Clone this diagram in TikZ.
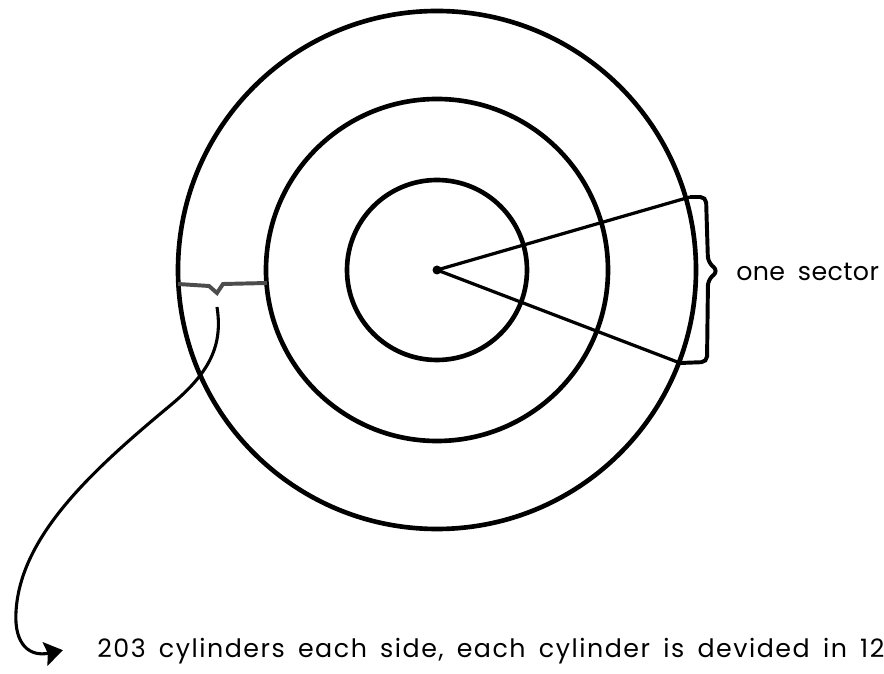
\documentclass[tikz,border=0pt]{standalone}
\usepackage{fontspec}
\setmainfont{Poppins}[LetterSpace=6, WordSpace=1.6]
\newfontfamily\sectorfont{Poppins}[LetterSpace=1.5, WordSpace=1.8]
\usetikzlibrary{arrows.meta, positioning, calc}

\begin{document}
\begin{tikzpicture}[x=0.025cm, y=-0.025cm,
        ring/.style={draw, line width=3.3pt},
        spoke/.style={draw, line width=2.3pt},
        bracket/.style={draw, line width=2.8pt, rounded corners=4pt},
        gap/.style={draw=black!70, line width=2.8pt},
        pointer/.style={draw, line width=2.2pt, -{Stealth[length=13pt, width=17pt, inset=2pt]}},
        label/.style={font=\fontsize{18}{21}\selectfont, inner sep=0pt}
    ]
    \useasboundingbox (0,0) rectangle (884,674);
    \clip (0,0) rectangle (884,674);

    % the disk and its cylinders
    \coordinate (c) at (437,270);
    \draw[ring] (c) circle[radius=259];
    \draw[ring] (c) circle[radius=171];
    \draw[ring] (c) circle[radius=90];
    \fill (c) circle[radius=4.5];

    % one sector
    \coordinate (s1) at (690,197);
    \coordinate (s2) at (680,363);
    \coordinate (tip) at (718,271);
    \draw[spoke] (c) -- (s1);
    \draw[spoke] (c) -- (s2);
    \draw[bracket] (s1) -- (706,197) -- (708,262) -- (tip) -- (708,280) -- (707,362) -- (s2);
    \node[label, font=\fontsize{18}{21}\sectorfont, anchor=base west] (sector) at (736,281) {one sector};

    % gap between two cylinders
    \coordinate (g1) at (178,284);
    \coordinate (g2) at (267,283);
    \coordinate (v) at (217,293);
    \draw[gap] (g1) -- (209,286) -- (v) -- (223,284) -- (g2);

    \coordinate (from) at (217,307);
    \node[label, anchor=base west] (note) at (97,658)
        {203 cylinders each side, each cylinder is devided in 12};
    \draw[pointer] (from) .. controls (223,345) and (210,372) .. (172,404)
        .. controls (95,468) and (20,535) .. (16,612)
        .. controls (14,645) and (30,657) .. ([xshift=-0.85cm, yshift=1pt]note.west);
\end{tikzpicture}
\end{document}
